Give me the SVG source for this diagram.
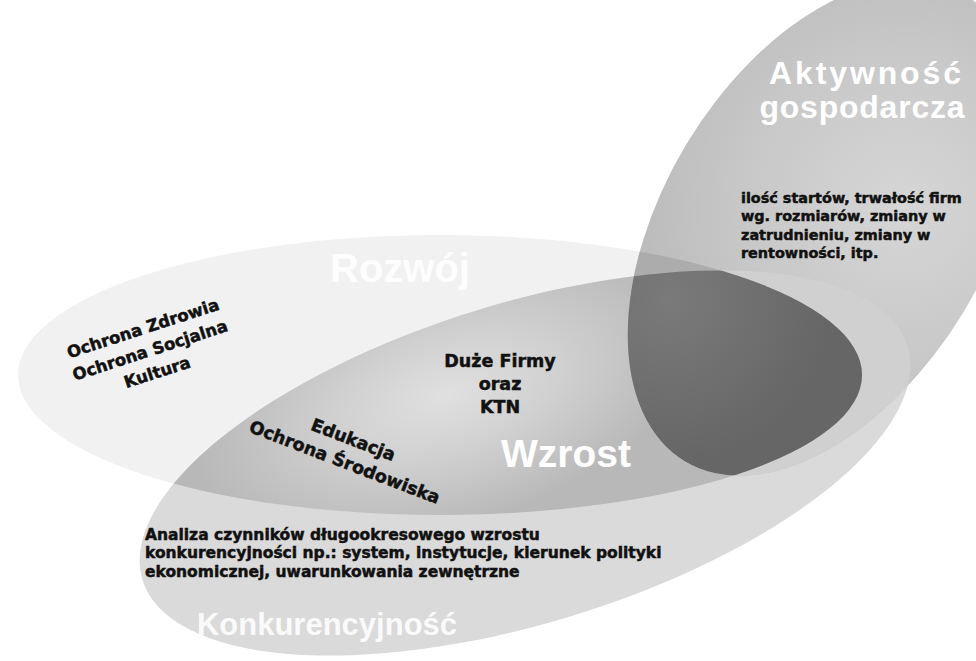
<svg xmlns="http://www.w3.org/2000/svg" width="976" height="661" viewBox="0 0 976 661">
  <style>
    .body { font-family: "DejaVu Sans", "Liberation Sans", sans-serif; font-weight: bold; fill: #111111; stroke: #111111; stroke-width: 0.5; }
    .title { font-family: "Liberation Sans", "DejaVu Sans", sans-serif; font-weight: bold; fill: #ffffff; }
  </style>
  <defs>
    <!-- area outlines, shared by fills and clips -->
    <ellipse id="shapeRozwoj" cx="440" cy="375" rx="422" ry="140"/>
    <ellipse id="shapeKonk" cx="525" cy="463" rx="400" ry="160" transform="rotate(-17 525 463)"/>
    <ellipse id="shapeAkt" cx="825" cy="228" rx="162" ry="272" transform="rotate(31 825 228)"/>
    <clipPath id="clipRozwoj">
      <ellipse cx="440" cy="375" rx="422" ry="140"/>
    </clipPath>
    <clipPath id="clipKonk">
      <ellipse cx="525" cy="463" rx="400" ry="160" transform="rotate(-17 525 463)"/>
    </clipPath>
    <radialGradient id="midGrad" gradientUnits="userSpaceOnUse" cx="470" cy="375" r="260" gradientTransform="translate(470 375) scale(1 0.5) rotate(-17) translate(-470 -375)">
      <stop offset="0" stop-color="#e0e0e0"/>
      <stop offset="0.45" stop-color="#d0d0d0"/>
      <stop offset="1" stop-color="#b8b8b8"/>
    </radialGradient>
    <radialGradient id="aktGrad" gradientUnits="userSpaceOnUse" cx="880" cy="170" r="260">
      <stop offset="0" stop-color="#d6d6d6"/>
      <stop offset="0.6" stop-color="#c8c8c8"/>
      <stop offset="1" stop-color="#bcbcbc"/>
    </radialGradient>
    <radialGradient id="darkGrad" gradientUnits="userSpaceOnUse" cx="730" cy="370" r="160">
      <stop offset="0" stop-color="#7a7a7a"/>
      <stop offset="1" stop-color="#666666"/>
    </radialGradient>
  </defs>

  <rect width="976" height="661" fill="#ffffff"/>

  <!-- Rozwój -->
  <g id="rozwoj">
    <use href="#shapeRozwoj" fill="#f1f1f1"/>
  </g>

  <!-- Konkurencyjność -->
  <g id="konkurencyjnosc">
    <use href="#shapeKonk" fill="#dadada"/>
  </g>

  <!-- Wzrost: where Rozwój and Konkurencyjność meet -->
  <g id="wzrost" clip-path="url(#clipRozwoj)">
    <use href="#shapeKonk" fill="url(#midGrad)"/>
  </g>

  <!-- Aktywność gospodarcza and its overlaps -->
  <g id="aktywnosc">
    <use href="#shapeAkt" fill="url(#aktGrad)"/>
    <g clip-path="url(#clipKonk)">
      <use href="#shapeAkt" fill="#d0d0d0"/>
    </g>
    <g clip-path="url(#clipRozwoj)">
      <use href="#shapeAkt" fill="#acacac"/>
      <g clip-path="url(#clipKonk)">
        <use href="#shapeAkt" fill="url(#darkGrad)"/>
      </g>
    </g>
  </g>

  <!-- area titles -->
  <g id="titles">
    <text class="title" x="400" y="282" font-size="40" text-anchor="middle" fill-opacity="0.9">Rozwój</text>
    <text class="title" x="865" y="84" font-size="32" text-anchor="middle" textLength="192" lengthAdjust="spacing">Aktywność</text>
    <text class="title" x="862" y="118" font-size="32" text-anchor="middle" textLength="205" lengthAdjust="spacing">gospodarcza</text>
    <text class="title" x="566" y="467" font-size="39" text-anchor="middle">Wzrost</text>
    <text class="title" x="327" y="635" font-size="31" text-anchor="middle" fill-opacity="0.9">Konkurencyjność</text>
  </g>

  <!-- area contents -->
  <g id="label-rozwoj" transform="translate(150 350) rotate(-18)">
    <text class="body" font-size="16.5" text-anchor="middle" x="0" y="-17">Ochrona Zdrowia</text>
    <text class="body" font-size="16.5" text-anchor="middle" x="0" y="6">Ochrona Socjalna</text>
    <text class="body" font-size="16.5" text-anchor="middle" x="0" y="29">Kultura</text>
  </g>

  <g id="label-edukacja" transform="translate(349 451) rotate(21)">
    <text class="body" font-size="17.5" text-anchor="middle" x="0" y="-6">Edukacja</text>
    <text class="body" font-size="17.5" text-anchor="middle" x="0" y="18">Ochrona Środowiska</text>
  </g>

  <g id="label-centrum">
    <text class="body" font-size="17.5" text-anchor="middle" x="500" y="367">Duże Firmy</text>
    <text class="body" font-size="17.5" text-anchor="middle" x="500" y="390">oraz</text>
    <text class="body" font-size="17.5" text-anchor="middle" x="500" y="413">KTN</text>
  </g>

  <g id="label-aktywnosc">
    <text class="body" font-size="14.4" x="741" y="203">ilość startów, trwałość firm</text>
    <text class="body" font-size="14.4" x="741" y="221">wg. rozmiarów, zmiany w</text>
    <text class="body" font-size="14.4" x="741" y="240">zatrudnieniu, zmiany w</text>
    <text class="body" font-size="14.4" x="741" y="258">rentowności, itp.</text>
  </g>

  <g id="label-konkurencyjnosc">
    <text class="body" font-size="15.5" x="145" y="540">Analiza czynników długookresowego wzrostu</text>
    <text class="body" font-size="15.5" x="145" y="558">konkurencyjności np.: system, instytucje, kierunek polityki</text>
    <text class="body" font-size="15.5" x="145" y="577">ekonomicznej, uwarunkowania zewnętrzne</text>
  </g>
</svg>
